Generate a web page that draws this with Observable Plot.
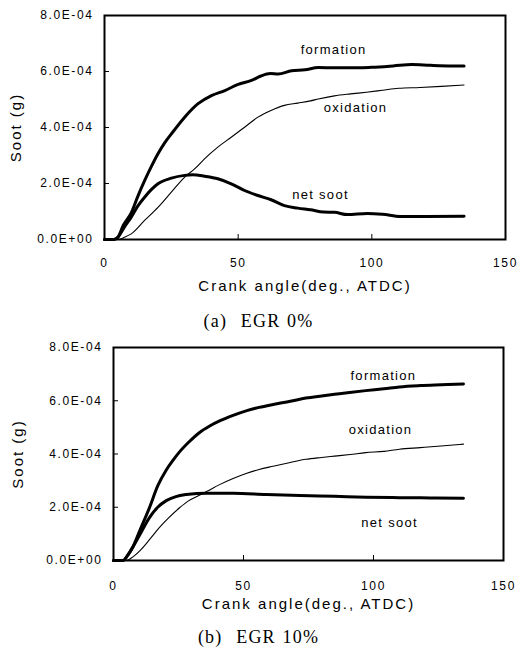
<!DOCTYPE html>
<html>
<head>
<meta charset="utf-8">
<script src="https://cdn.jsdelivr.net/npm/d3@7"></script>
<script src="https://cdn.jsdelivr.net/npm/@observablehq/plot@0.6"></script>
<style>
  html, body { margin: 0; padding: 0; background: #fff; }
  #wrap { position: relative; width: 517px; height: 654px; overflow: hidden; background: #fff; }
  .panel { position: absolute; left: 0; }
  .cap { position: absolute; left: 0; width: 517px; text-align: center;
         font-family: "Liberation Serif", "DejaVu Serif", serif; font-size: 18px;
         line-height: 20px; letter-spacing: 1.2px; word-spacing: 1px; color: #000; }
  .cap .tag { margin-right: 7px; }
</style>
</head>
<body>
<div id="wrap"></div>
<script>
// ---- data (Soot values in units of 1E-04 g) ----
const xTicks = [0, 50, 100, 150];
const yTicks = [0, 2e-4, 4e-4, 6e-4, 8e-4];
const xTitle = "Crank angle(deg., ATDC)";
const yTitle = "Soot (g)";
const captionTags = ["(a)", "(b)"];
const captionTexts = ["EGR 0%", "EGR 10%"];
const seriesNames = ["formation", "oxidation", "net soot"];

// EGR 0%
const egr0Formation = [[0,0],[3.5,0],[5,0.08],[7,0.5],[10,0.95],[12.5,1.55],[15,2.1],[17.5,2.6],[20,3.06],[22.5,3.45],[25,3.77],[30,4.37],[35,4.85],[40,5.14],[45,5.32],[50,5.54],[55,5.68],[58.5,5.84],[62,5.93],[65,5.91],[70,6.03],[75,6.06],[80,6.14],[86,6.13],[95,6.13],[100,6.15],[108,6.2],[115,6.25],[122,6.22],[130,6.2],[134.5,6.2]];
const egr0Oxidation = [[0,0],[5,0],[7.5,0.08],[10,0.2],[15,0.68],[20,1.15],[25,1.69],[30,2.23],[33.7,2.52],[37.4,2.88],[42.4,3.3],[47.4,3.65],[52.4,4.01],[57.4,4.37],[62.3,4.61],[67.3,4.79],[72.3,4.87],[77,4.95],[80,5.02],[86,5.13],[92,5.2],[98,5.26],[104,5.33],[110,5.4],[118,5.43],[126,5.47],[134.5,5.52]];
const egr0NetSoot = [[0,0],[3.5,0],[5,0.08],[7.5,0.45],[10,0.8],[12.5,1.2],[15,1.51],[17.5,1.78],[20,1.99],[25,2.19],[30,2.29],[33,2.31],[37.4,2.26],[42.4,2.17],[47.4,1.99],[52.4,1.75],[57.4,1.57],[62.3,1.42],[67.3,1.21],[72.3,1.12],[77,1.06],[82,0.98],[86,0.97],[90.8,0.89],[98.3,0.93],[104,0.9],[110.7,0.82],[120,0.82],[134.5,0.83]];
const egr0Labels = [
  {name: "formation", x: 85.7, y: 6.79},
  {name: "oxidation", x: 93.9, y: 4.71},
  {name: "net soot",  x: 80.8, y: 1.61}
];

// EGR 10%
const egr10Formation = [[0,0],[3.6,0],[5.5,0.2],[7.4,0.5],[10,1.1],[13.9,2.0],[17,2.8],[20.3,3.4],[23,3.78],[25.4,4.08],[29,4.45],[33,4.8],[37,5.05],[41,5.25],[46,5.45],[51,5.62],[56,5.75],[61.4,5.86],[68,5.98],[74,6.1],[80,6.18],[85,6.24],[90,6.3],[97,6.38],[104,6.45],[110,6.52],[118,6.57],[126,6.6],[134.6,6.63]];
const egr10Oxidation = [[0,0],[4.9,0],[7,0.1],[10,0.35],[14,0.8],[17.7,1.24],[21,1.58],[25.4,1.98],[29,2.25],[33,2.45],[36,2.6],[40.8,2.85],[46,3.08],[51,3.27],[56,3.42],[61.4,3.54],[68,3.68],[74,3.8],[80,3.87],[85,3.92],[91,3.98],[97,4.05],[104,4.1],[110,4.18],[118,4.24],[126,4.3],[134.6,4.37]];
const egr10NetSoot = [[0,0],[3.6,0],[5.5,0.2],[7.4,0.5],[10,0.95],[13.9,1.62],[17,2.0],[20.3,2.25],[24,2.4],[28,2.48],[32,2.52],[35.7,2.53],[46,2.53],[58.8,2.48],[71.7,2.44],[85,2.41],[97.3,2.38],[110,2.36],[122,2.35],[134.6,2.34]];
const egr10Labels = [
  {name: "formation", x: 103.8, y: 6.92},
  {name: "oxidation", x: 102.7, y: 4.89},
  {name: "net soot",  x: 106.2, y: 1.43}
];

const UNIT = 1e-4;

// ---- helpers ----
const sci = d => {
  if (d === 0) return "0.0E+00";
  const e = Math.floor(Math.log10(Math.abs(d)) + 1e-9);
  const m = d / Math.pow(10, e);
  return `${m.toFixed(1)}E${e < 0 ? "-" : "+"}${String(Math.abs(e)).padStart(2, "0")}`;
};
const toRows = pts => pts.map(([x, y]) => ({x, y: y * UNIT}));

function panel({formation, oxidation, netSoot, labels, top, height, marginLeft, marginRight,
                marginTop, marginBottom, xPad, yLabelDx, xTitleDy}) {
  const fw = 517 - marginLeft - marginRight;
  const fh = height - marginTop - marginBottom;
  const svg = Plot.plot({
    width: 517, height, marginTop, marginBottom, marginLeft, marginRight,
    style: {fontFamily: "'Liberation Sans', Arial, sans-serif", fontSize: "12px", color: "#000", background: "#fff", overflow: "visible"},
    x: {domain: [0, 150], ticks: xTicks, label: null},
    y: {domain: [0, 8e-4], ticks: yTicks, tickFormat: sci, label: null},
    marks: [
      Plot.tickX(xTicks, {x: d => d, insetTop: fh - 5, stroke: "#000", strokeWidth: 1}),
      Plot.tickY(yTicks, {y: d => d, insetRight: fw - 5, stroke: "#000", strokeWidth: 1}),
      Plot.axisX({ticks: xTicks, tickSize: 0, tickPadding: xPad, fontSize: 12, label: null}),
      Plot.axisY({ticks: yTicks, tickSize: 0, tickPadding: 11, tickFormat: sci, fontSize: 12, label: null}),
      Plot.line(toRows(oxidation), {x: "x", y: "y", stroke: "#000", strokeWidth: 1.1, curve: "monotone-x"}),
      Plot.line(toRows(netSoot), {x: "x", y: "y", stroke: "#000", strokeWidth: 3, curve: "monotone-x"}),
      Plot.line(toRows(formation), {x: "x", y: "y", stroke: "#000", strokeWidth: 3, curve: "monotone-x"}),
      Plot.text(labels, {x: "x", y: d => d.y * UNIT, text: "name", fontSize: 13, fill: "#000", textAnchor: "middle", lineAnchor: "middle"}),
      Plot.text([xTitle], {frameAnchor: "bottom", dy: xTitleDy, lineAnchor: "middle", textAnchor: "middle", fontSize: 15, fill: "#000"}),
      Plot.text([yTitle], {frameAnchor: "left", dx: yLabelDx, rotate: -90, lineAnchor: "middle", textAnchor: "middle", fontSize: 15, fill: "#000"}),
      Plot.frame({stroke: "#000", strokeWidth: 2})
    ]
  });
  const s = d3.select(svg);
  s.selectAll('g[aria-label="x-axis tick label"] text, g[aria-label="y-axis tick label"] text').attr("letter-spacing", "1.6px");
  s.selectAll('g[aria-label="text"] text').attr("letter-spacing", "1.3px");
  s.selectAll('g[aria-label="text"] text').filter(function() {
    const t = this.textContent; return t === xTitle || t === yTitle;
  }).attr("letter-spacing", "2px");
  const div = document.createElement("div");
  div.className = "panel";
  div.style.top = top + "px";
  div.appendChild(svg);
  return div;
}

const wrap = document.getElementById("wrap");
wrap.appendChild(panel({
  formation: egr0Formation, oxidation: egr0Oxidation, netSoot: egr0NetSoot, labels: egr0Labels,
  top: 0, height: 300, marginTop: 15, marginBottom: 61, marginLeft: 104, marginRight: 12,
  xPad: 19, yLabelDx: -88, xTitleDy: 47
}));
wrap.appendChild(panel({
  formation: egr10Formation, oxidation: egr10Oxidation, netSoot: egr10NetSoot, labels: egr10Labels,
  top: 332, height: 289, marginTop: 15, marginBottom: 61, marginLeft: 113, marginRight: 14,
  xPad: 21, yLabelDx: -95, xTitleDy: 44
}));
const tops = [311, 627];
captionTags.forEach((tag, i) => {
  const d = document.createElement("div");
  d.className = "cap";
  d.style.top = tops[i] + "px";
  const span = document.createElement("span");
  span.className = "tag";
  span.textContent = tag;
  d.appendChild(span);
  d.appendChild(document.createTextNode(" " + captionTexts[i]));
  wrap.appendChild(d);
});
</script>
</body>
</html>
